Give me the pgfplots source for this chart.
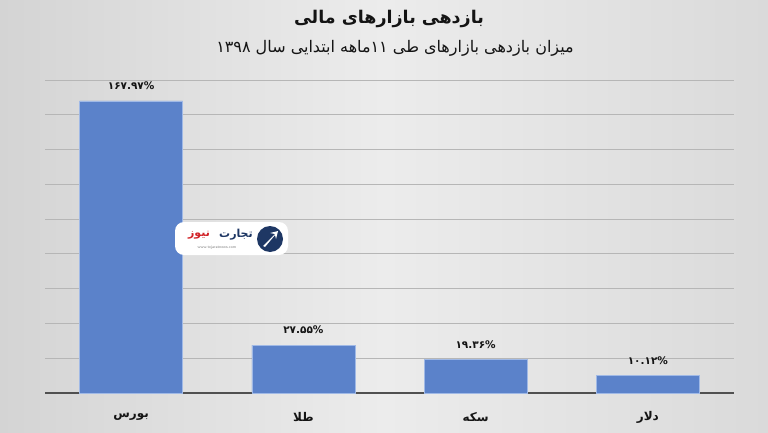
\documentclass[border=0pt]{standalone}
\usepackage{fontspec}
\usepackage{pgfplots}
\pgfplotsset{compat=1.18}
\TeXXeTstate=1
\newfontfamily\arabicfont[Script=Arabic]{DejaVu Sans}
\definecolor{barblue}{RGB}{91,130,202}
\definecolor{baredge}{RGB}{160,185,230}
\definecolor{gridc}{RGB}{182,182,182}
\definecolor{basec}{RGB}{80,80,80}
\definecolor{bgL}{RGB}{212,212,212}
\definecolor{bgM}{RGB}{236,236,236}
\definecolor{bgR}{RGB}{218,218,218}
\definecolor{textc}{RGB}{20,20,20}
\definecolor{logonavy}{RGB}{30,55,100}
\definecolor{logored}{RGB}{210,35,40}
\begin{document}
\begin{tikzpicture}[x=1pt,y=1pt]
\shade[left color=bgL, right color=bgR, middle color=bgM] (0,0) rectangle (768,432);
\begin{axis}[
  at={(45pt,39pt)}, anchor=south west,
  scale only axis, width=689pt, height=313pt,
  xmin=-0.5, xmax=3.5, ymin=0, ymax=180,
  axis x line*=bottom, axis y line*=left,
  x axis line style={draw=basec, line width=1.5pt, -},
  y axis line style={draw=none},
  ytick={20,40,...,180}, yticklabels={},
  ymajorgrids, grid style={draw=gridc, line width=0.9pt},
  major tick length=0pt,
  xtick={0,1,2,3},
  xticklabels={\beginR بورس\endR,\beginR طلا\endR,\beginR سکه\endR,\beginR دلار\endR},
  xticklabel style={font=\arabicfont\bfseries\fontsize{12}{14}\selectfont, text=textc, anchor=center, yshift=-24pt},
  point meta=explicit symbolic,
  nodes near coords={\pgfplotspointmeta},
  nodes near coords style={font=\arabicfont\bfseries\fontsize{10.5}{12}\selectfont, text=textc, anchor=center, yshift=15pt},
  clip=false,
]
\addplot[ybar, bar width=103pt, fill=barblue, draw=baredge, line width=0.7pt]
  coordinates {(0,167.97) [۱۶۷.۹۷\%] (1,27.55) [۲۷.۵۵\%] (2,19.36) [۱۹.۳۶\%] (3,10.12) [۱۰.۱۲\%]};
\end{axis}
\node[font=\arabicfont\bfseries\fontsize{17.5}{20}\selectfont, text=textc] at (389,413) {\beginR بازدهی بازارهای مالی\endR};
\node[font=\arabicfont\fontsize{16}{19}\selectfont, text=textc] at (395,384) {\beginR میزان بازدهی بازارهای طی ۱۱ماهه ابتدایی سال ۱۳۹۸\endR};
% watermark logo
\fill[white, rounded corners=9pt] (175,177) rectangle (288,210);
\fill[logonavy] (270,193) circle (13);
\fill[white] (263,186) -- (275,198) -- (270,199) -- (278,201) -- (276,193) -- (275,197) -- (265,185) -- cycle;
\node[font=\arabicfont\bfseries\fontsize{11}{12}\selectfont, text=logonavy] at (236,197) {\beginR تجارت\endR};
\node[font=\arabicfont\bfseries\fontsize{11}{12}\selectfont, text=logored] at (199,197) {\beginR نیوز\endR};
\node[font=\sffamily\fontsize{4}{5}\selectfont, text=gray] at (217,184) {www.tejaratnews.com};
\pgfresetboundingbox
\path[use as bounding box] (0,0) rectangle (768,432);
\end{tikzpicture}
\end{document}
